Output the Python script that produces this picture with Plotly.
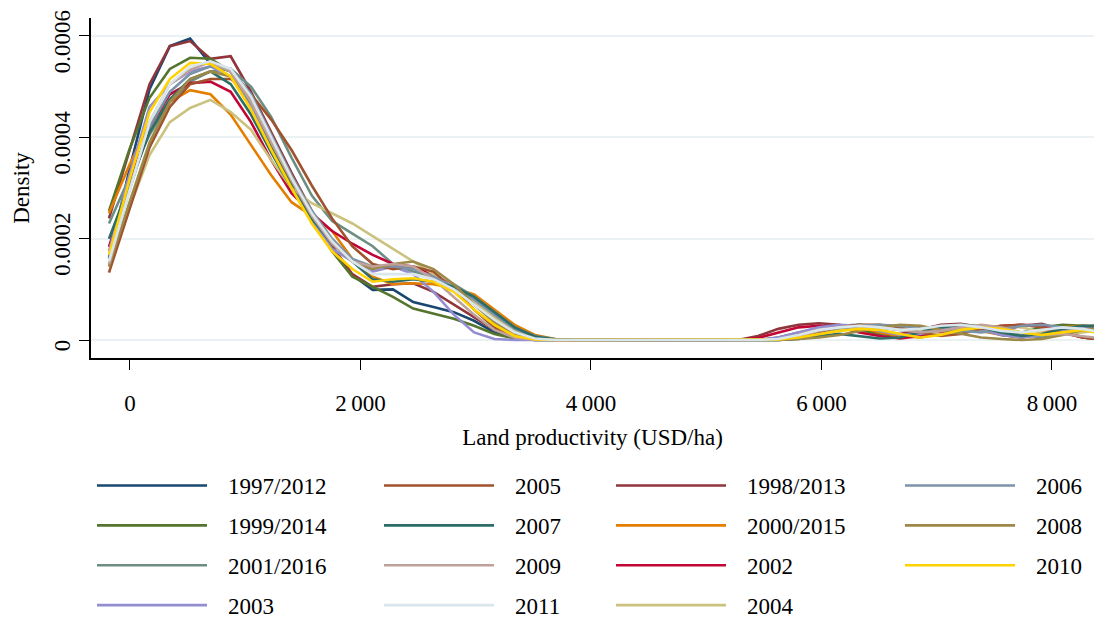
import plotly.graph_objects as go

# Evaluation grid (USD/ha) shared by all kernel density curves
land_productivity = [
    -182, -6, 170, 346, 522, 698, 874, 1050, 1226, 1402,
    1578, 1754, 1930, 2106, 2282, 2458, 2634, 2810, 2986, 3162,
    3338, 3514, 3690, 3866, 4042, 4218, 4394, 4570, 4746, 4922,
    5098, 5274, 5450, 5626, 5802, 5978, 6154, 6330, 6506, 6682,
    6858, 7034, 7210, 7386, 7562, 7738, 7914, 8090, 8266, 8442,
]

DENSITY_UNIT = 1e-4  # values below are density x 10^4

d_1997_2012 = [1.62, 3.35, 4.95, 5.8, 5.95, 5.45, 5.3, 4.7, 3.95, 3.1, 2.45, 1.85, 1.28, 0.99, 1.0, 0.75, 0.65, 0.55, 0.38, 0.15, 0.04, 0, 0, 0,
               0, 0, 0, 0, 0, 0, 0,
               0, 0, 0.02, 0.08, 0.18, 0.28, 0.3, 0.25, 0.2, 0.22, 0.28, 0.3, 0.22, 0.1, 0.05, 0.12, 0.22, 0.25, 0.2]
d_1998_2013 = [2.4, 3.7, 5.05, 5.8, 5.9, 5.55, 5.6, 4.9, 4.1, 3.3, 2.55, 1.85, 1.3, 1.05, 1.1, 1.12, 0.95, 0.7, 0.45, 0.2, 0.06, 0.01, 0, 0,
               0, 0, 0, 0, 0, 0, 0,
               0, 0.08, 0.22, 0.3, 0.33, 0.3, 0.22, 0.15, 0.12, 0.2, 0.3, 0.32, 0.25, 0.2, 0.28, 0.32, 0.2, 0.05, 0.01]
d_1999_2014 = [2.55, 3.75, 4.78, 5.35, 5.57, 5.55, 5.3, 4.65, 3.85, 3.05, 2.35, 1.75, 1.25, 1.05, 0.85, 0.62, 0.52, 0.42, 0.28, 0.12, 0.03, 0, 0, 0,
               0, 0, 0, 0, 0, 0, 0,
               0, 0, 0.05, 0.15, 0.22, 0.25, 0.2, 0.12, 0.08, 0.15, 0.25, 0.28, 0.2, 0.12, 0.15, 0.25, 0.3, 0.28, 0.22]
d_2000_2015 = [2.5, 3.45, 4.28, 4.7, 4.93, 4.85, 4.45, 3.85, 3.25, 2.72, 2.45, 2.15, 1.6, 1.25, 1.1, 1.12, 1.1, 1.02, 0.9, 0.6, 0.3, 0.1, 0.02, 0,
               0, 0, 0, 0, 0, 0, 0,
               0, 0, 0.03, 0.12, 0.22, 0.28, 0.25, 0.15, 0.08, 0.05, 0.12, 0.2, 0.18, 0.1, 0.05, 0.15, 0.25, 0.28, 0.25]
d_2001_2016 = [2.3, 3.2, 4.05, 4.7, 5.1, 5.3, 5.35, 5.0, 4.4, 3.6, 2.85, 2.35, 2.1, 1.85, 1.5, 1.35, 1.25, 1.1, 0.85, 0.55, 0.25, 0.08, 0.02, 0,
               0, 0, 0, 0, 0, 0, 0,
               0, 0, 0, 0.05, 0.15, 0.25, 0.3, 0.28, 0.25, 0.22, 0.25, 0.3, 0.28, 0.2, 0.1, 0.05, 0.15, 0.28, 0.3]
d_2002 = [1.84, 3.1, 4.2, 4.85, 5.07, 5.1, 4.9, 4.3, 3.55, 2.9, 2.5, 2.15, 1.9, 1.68, 1.5, 1.45, 1.3, 1.05, 0.75, 0.4, 0.15, 0.03, 0, 0,
          0, 0, 0, 0, 0, 0, 0,
          0, 0.04, 0.15, 0.25, 0.28, 0.25, 0.15, 0.08, 0.03, 0.08, 0.15, 0.2, 0.22, 0.28, 0.3, 0.28, 0.15, 0.05, 0.02]
d_2003 = [1.75, 3.25, 4.6, 5.05, 5.3, 5.4, 5.2, 4.6, 3.75, 3.0, 2.35, 1.8, 1.55, 1.35, 1.45, 1.3, 0.95, 0.5, 0.15, 0.02, 0, 0, 0, 0,
          0, 0, 0, 0, 0, 0, 0,
          0, 0, 0.05, 0.15, 0.25, 0.3, 0.28, 0.18, 0.1, 0.12, 0.2, 0.25, 0.2, 0.1, 0.05, 0.1, 0.2, 0.25, 0.22]
d_2004 = [1.45, 2.6, 3.65, 4.3, 4.58, 4.74, 4.5, 4.15, 3.55, 3.0, 2.7, 2.5, 2.3, 2.05, 1.8, 1.55, 1.3, 1.05, 0.75, 0.45, 0.2, 0.06, 0.01, 0,
          0, 0, 0, 0, 0, 0, 0,
          0, 0, 0.02, 0.08, 0.15, 0.2, 0.25, 0.28, 0.25, 0.18, 0.12, 0.15, 0.22, 0.28, 0.25, 0.15, 0.1, 0.15, 0.2]
d_2005 = [1.33, 2.55, 3.8, 4.6, 5.05, 5.15, 5.15, 4.85, 4.35, 3.75, 3.05, 2.4, 1.85, 1.5, 1.4, 1.45, 1.35, 1.0, 0.6, 0.25, 0.07, 0.01, 0, 0,
          0, 0, 0, 0, 0, 0, 0,
          0, 0, 0.01, 0.06, 0.15, 0.25, 0.3, 0.3, 0.25, 0.15, 0.08, 0.12, 0.22, 0.28, 0.3, 0.25, 0.15, 0.05, 0.01]
d_2006 = [1.6, 2.95, 4.2, 4.9, 5.25, 5.4, 5.35, 4.85, 4.05, 3.25, 2.55, 2.0, 1.6, 1.45, 1.45, 1.4, 1.25, 1.05, 0.8, 0.5, 0.22, 0.06, 0.01, 0,
          0, 0, 0, 0, 0, 0, 0,
          0, 0, 0, 0.03, 0.1, 0.2, 0.28, 0.3, 0.28, 0.25, 0.22, 0.18, 0.15, 0.2, 0.28, 0.3, 0.25, 0.2, 0.15]
d_2007 = [2.0, 3.05, 4.1, 4.75, 5.15, 5.3, 5.05, 4.45, 3.7, 3.0, 2.4, 1.9, 1.55, 1.2, 1.15, 1.2, 1.15, 1.05, 0.85, 0.55, 0.25, 0.07, 0.01, 0,
          0, 0, 0, 0, 0, 0, 0,
          0, 0, 0, 0.02, 0.08, 0.12, 0.08, 0.03, 0.05, 0.15, 0.25, 0.3, 0.25, 0.15, 0.08, 0.12, 0.22, 0.28, 0.25]
d_2008 = [1.45, 2.7, 3.9, 4.7, 5.15, 5.3, 5.2, 4.75, 4.0, 3.2, 2.5, 1.95, 1.55, 1.4, 1.5, 1.55, 1.4, 1.1, 0.7, 0.35, 0.1, 0.02, 0, 0,
          0, 0, 0, 0, 0, 0, 0,
          0, 0, 0, 0.02, 0.05, 0.1, 0.18, 0.25, 0.3, 0.28, 0.2, 0.12, 0.05, 0.02, 0, 0.02, 0.1, 0.2, 0.25]
d_2009 = [1.5, 2.95, 4.3, 5.05, 5.33, 5.49, 5.3, 4.7, 3.9, 3.15, 2.45, 1.9, 1.55, 1.45, 1.5, 1.45, 1.2, 0.85, 0.5, 0.2, 0.05, 0, 0, 0,
          0, 0, 0, 0, 0, 0, 0,
          0, 0, 0.02, 0.08, 0.18, 0.25, 0.28, 0.25, 0.2, 0.15, 0.18, 0.25, 0.3, 0.25, 0.15, 0.1, 0.12, 0.08, 0.03]
d_2010 = [1.68, 3.15, 4.5, 5.15, 5.47, 5.45, 5.2, 4.55, 3.75, 3.0, 2.3, 1.75, 1.4, 1.15, 1.2, 1.22, 1.15, 0.95, 0.6, 0.3, 0.08, 0.01, 0, 0,
          0, 0, 0, 0, 0, 0, 0,
          0, 0, 0.01, 0.05, 0.12, 0.18, 0.22, 0.2, 0.12, 0.05, 0.1, 0.2, 0.25, 0.22, 0.15, 0.1, 0.15, 0.2, 0.12]
d_2011 = [1.55, 2.95, 4.3, 5.05, 5.4, 5.5, 5.35, 4.8, 4.0, 3.2, 2.5, 1.95, 1.55, 1.3, 1.3, 1.3, 1.2, 1.0, 0.7, 0.4, 0.15, 0.03, 0, 0,
          0, 0, 0, 0, 0, 0, 0,
          0, 0, 0.02, 0.1, 0.2, 0.25, 0.28, 0.25, 0.2, 0.22, 0.28, 0.3, 0.25, 0.18, 0.15, 0.2, 0.25, 0.22, 0.15]

series_names = ["1997/2012", "1998/2013", "1999/2014", "2000/2015", "2001/2016",
                "2002", "2003", "2004", "2005", "2006", "2007", "2008", "2009", "2010", "2011"]
series_values = [d_1997_2012, d_1998_2013, d_1999_2014, d_2000_2015, d_2001_2016,
                 d_2002, d_2003, d_2004, d_2005, d_2006, d_2007, d_2008, d_2009, d_2010, d_2011]
series_colors = ["#1a476f", "#90353b", "#55752f", "#e37e00", "#6e8e84",
                 "#c10534", "#938dd2", "#cac27e", "#a0522d", "#7b92a8",
                 "#2d6d66", "#9c8847", "#bfa19c", "#ffd200", "#d9e6eb"]
# legend column (1..4) each series is shown in
legend_column = [1, 3, 1, 3, 1, 3, 1, 3, 2, 4, 2, 4, 2, 4, 2]

x_tick_values = [0, 2000, 4000, 6000, 8000]
x_tick_labels = ["0", "2\u2009000", "4\u2009000", "6\u2009000", "8\u2009000"]
y_tick_values = [0, 0.0002, 0.0004, 0.0006]
y_tick_labels = ["0", "0.0002", "0.0004", "0.0006"]

FONT = "Liberation Serif"
FS = 23

fig = go.Figure()
for name, vals, color, col in zip(series_names, series_values, series_colors, legend_column):
    fig.add_trace(go.Scatter(
        x=land_productivity,
        y=[v * DENSITY_UNIT for v in vals],
        mode="lines",
        name="\u2002\u2009" + name,
        line=dict(color=color, width=2.6),
        legend="legend" if col == 1 else f"legend{col}",
        legendgroup=name,
    ))

W, H = 1094, 619
L, R, T, B = 91, 0, 18, 261
pw, ph = W - L - R, H - T - B


def px_x(px):
    return (px - L) / pw


def px_y(py):
    return (H - B - py) / ph


legend_common = dict(
    orientation="v", yanchor="top", xanchor="left",
    font=dict(family=FONT, size=FS, color="#000"),
    bgcolor="rgba(0,0,0,0)", borderwidth=0,
    itemwidth=110, tracegroupgap=7, traceorder="grouped",
    itemclick=False, itemdoubleclick=False,
)
col_left = {1: 97, 2: 384, 3: 616, 4: 905}
fig.update_layout(
    width=W, height=H,
    margin=dict(l=L, r=R, t=T, b=B, autoexpand=False),
    paper_bgcolor="white", plot_bgcolor="white",
    font=dict(family=FONT, size=FS, color="#000"),
    showlegend=True,
    legend=dict(x=px_x(col_left[1] - 5), y=px_y(464), **legend_common),
    legend2=dict(x=px_x(col_left[2] - 5), y=px_y(464), **legend_common),
    legend3=dict(x=px_x(col_left[3] - 5), y=px_y(464), **legend_common),
    legend4=dict(x=px_x(col_left[4] - 5), y=px_y(464), **legend_common),
    xaxis=dict(
        range=[-338, 8365], tickvals=x_tick_values, ticktext=x_tick_labels,
        showgrid=False, zeroline=False, showline=True, linecolor="#000", linewidth=1.5,
        ticks="outside", ticklen=10, tickwidth=1.3, tickcolor="#000",
        ticklabelstandoff=14, ticklabeloverflow="allow",
        title=dict(text="Land productivity (USD/ha)", standoff=14, font=dict(family=FONT, size=FS)),
        tickfont=dict(family=FONT, size=FS),
    ),
    yaxis=dict(
        range=[-0.0000355, 0.0006355], tickvals=y_tick_values, ticktext=y_tick_labels,
        tickangle=-90, ticklabeloverflow="allow", ticklabelshift=9,
        showgrid=True, gridcolor="#eaf2f3", gridwidth=1.5, zeroline=False,
        showline=True, linecolor="#000", linewidth=1.5,
        ticks="outside", ticklen=10, tickwidth=1.3, tickcolor="#000",
        title=dict(text="Density", standoff=14, font=dict(family=FONT, size=FS)),
        tickfont=dict(family=FONT, size=FS),
    ),
)

fig.write_html(
    "out.html",
    config={"displayModeBar": False},
    post_script="document.body.style.margin='0';document.body.style.overflow='hidden';",
)
